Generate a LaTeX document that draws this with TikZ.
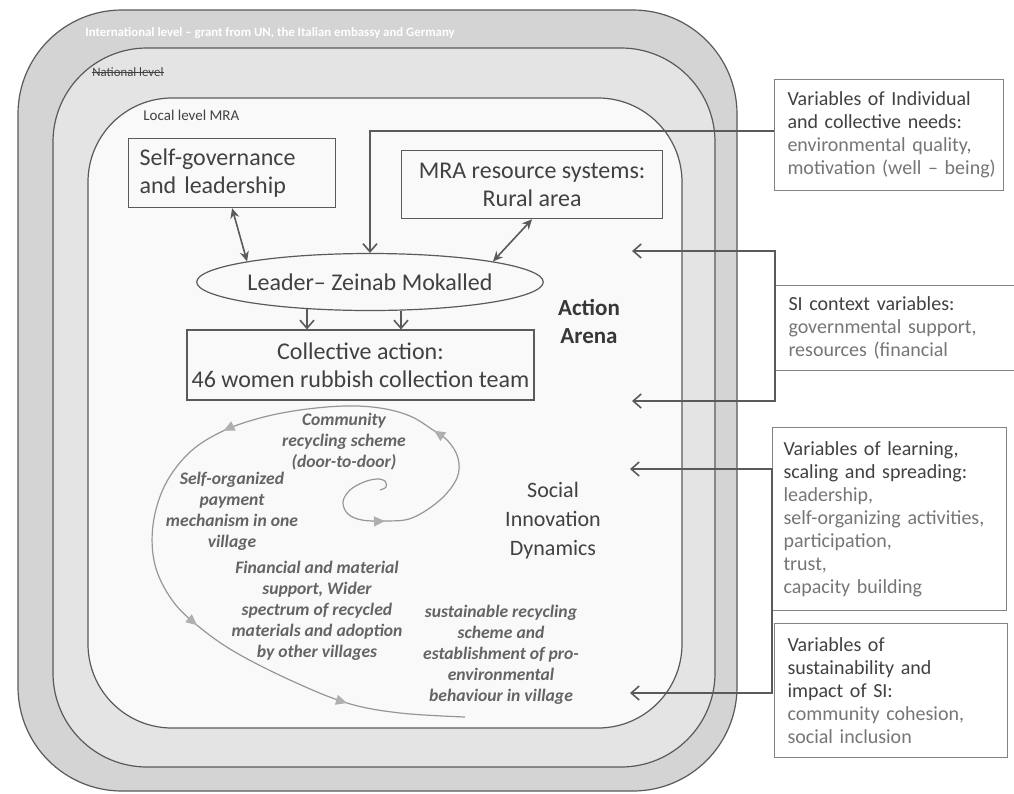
\documentclass[tikz,border=0pt]{standalone}
\usepackage{fontspec}
\setmainfont{Carlito}
\usetikzlibrary{arrows.meta,shapes.geometric,decorations.markings}

\definecolor{intband}{RGB}{212,212,212}
\definecolor{natband}{RGB}{228,228,228}
\definecolor{locfill}{RGB}{249,249,249}
\definecolor{edge}{RGB}{90,90,90}
\definecolor{ink}{RGB}{65,65,65}
\definecolor{softink}{RGB}{118,118,118}
\definecolor{spiralgray}{RGB}{150,150,150}
\definecolor{spiraltip}{RGB}{175,175,175}

\newcommand{\vhead}[1]{\textcolor{ink}{#1}}

\begin{document}
\begin{tikzpicture}[x=0.5pt,y=-0.5pt,
  tierframe/.style={draw=edge,line width=0.6pt,rounded corners=#1},
  textbox/.style={draw=edge,line width=0.6pt,text=ink,inner sep=0pt,font=\fontsize{12}{14}\selectfont},
  varbox/.style={draw=edge!75,line width=0.5pt,text=softink,anchor=north west,inner sep=0pt,align=left,
    font=\fontsize{10}{11.5}\selectfont,execute at begin node={\leftskip=#1\relax\hyphenpenalty=10000\relax}},
  tierlabel/.style={anchor=west,inner sep=0pt,font=\fontsize{7.5}{9}\selectfont},
  spiraltext/.style={text=softink!85!black,inner sep=0pt,align=center,font=\bfseries\itshape\fontsize{8.8}{10.5}\selectfont},
  conn/.style={draw=edge,line width=0.8pt},
  opentip/.style={-{Straight Barb[length=4pt,width=7pt]}},
  bothtips/.style={{Straight Barb[length=4pt,width=7pt]}-{Straight Barb[length=4pt,width=7pt]}},
  dbltips/.style={{Stealth[length=5pt,width=4.5pt]}-{Stealth[length=5pt,width=4.5pt]}},
  spiralpath/.style={draw=spiralgray,line width=0.6pt,decoration={markings,
    mark=at position 0.116 with {\arrow[spiraltip]{Triangle[length=5.5pt,width=5pt]}},
    mark=at position 0.261 with {\arrow[spiraltip]{Triangle[length=5.5pt,width=5pt]}},
    mark=at position 0.478 with {\arrow[spiraltip]{Triangle[length=5.5pt,width=5pt]}},
    mark=at position 0.714 with {\arrow[spiraltip]{Triangle[length=5.5pt,width=5pt]}},
    mark=at position 0.882 with {\arrow[spiraltip]{Triangle[length=5.5pt,width=5pt]}}}}]

\fill[white] (0,0) rectangle (1014,794);
\useasboundingbox (0,0) rectangle (1014,794);

%levels: international, national, local
\draw[tierframe=52pt,fill=intband] (18,10) rectangle (737,791);
\draw[tierframe=47pt,fill=natband] (53,48) rectangle (715,767);
\draw[tierframe=42pt,fill=locfill] (88,98) rectangle (682,728);

\node[tierlabel,text=white,font=\bfseries\fontsize{6.4}{8}\selectfont] (intlab) at (85,33) {International level – grant from UN, the Italian embassy and Germany};
\node[tierlabel,text=ink,font=\fontsize{6.4}{8}\selectfont] (natlab) at (92,72) {National level};
\draw[ink,line width=0.5pt] (natlab.west) -- (natlab.east); %struck through
\node[tierlabel,text=ink] (loclab) at (143,115) {Local level MRA};

%action arena
\node[textbox,anchor=north west,minimum width=103.5pt,minimum height=34.5pt,text width=92.5pt,inner xsep=5.5pt,align=left] (selfgov) at (128,138) {Self-governance\\and leadership};
\node[textbox,anchor=north west,minimum width=130.5pt,minimum height=34pt,align=center] (mra) at (401,150) {MRA resource systems:\\Rural area};
\node[textbox,ellipse,minimum width=145.5pt,minimum height=28.5pt] (leader) at (370,282) {Leader– Zeinab Mokalled};
\node[textbox,minimum width=173.5pt,minimum height=35pt,align=center] (collect) at (360.5,365) {Collective action:\\46 women rubbish collection team};
\node[text=ink!85!black,align=center,font=\bfseries\fontsize{11.5}{14}\selectfont] (arena) at (589,321) {Action\\Arena};

\draw[conn,dbltips] (selfgov.south) -- (leader.north west);
\draw[conn,dbltips] (mra.south) -- (leader.north east);
\draw[conn,opentip] ([shift={(-31.5pt,1.5pt)}]leader.south) -- ([xshift=-31.5pt]leader.south |- collect.north);
\draw[conn,opentip] ([xshift=15.5pt]leader.south) -- ([xshift=15.5pt]leader.south |- collect.north);

%social innovation dynamics
\draw[spiralpath,postaction={decorate}] plot[smooth,tension=0.6] coordinates {
  (380,490) (386,487) (385,481) (377,479) (364,482) (350,490) (343,502) (348,514) (362,520)
  (386,521) (412,518) (440,500) (457,478) (458,458) (448,441) (433,430)
  (410,416) (380,408) (344,406) (300,410) (260,418) (223,431)
  (190,452) (165,485) (153,525) (155,565) (172,600) (198,626)
  (235,652) (290,680) (347,703) (400,713) (465,717)};

\node[spiraltext] (recycle) at (344,442) {Community\\recycling scheme\\(door-to-door)};
\node[spiraltext] (payment) at (232,511) {Self-organized\\payment\\mechanism in one\\village};
\node[spiraltext] (support) at (317,611) {Financial and material\\support, Wider\\spectrum of recycled\\materials and adoption\\by other villages};
\node[spiraltext] (sustain) at (501,655) {sustainable recycling\\scheme and\\establishment of pro-\\environmental\\behaviour in village};
\node[text=ink,align=center,font=\fontsize{11}{14.5}\selectfont] (sidyn) at (553,521) {Social\\Innovation\\Dynamics};

%variables
\node[varbox=6.5pt,minimum height=55.5pt,text width=114.5pt] (needs) at (774,79) {\vhead{Variables of Individual}\\\vhead{and collective needs:}\\environmental quality,\\motivation (well – being)};
\node[varbox=6.5pt,minimum height=42.5pt,text width=127.5pt] (context) at (775,285) {\vhead{SI context variables:}\\governmental support,\\resources (financial};
\node[varbox=5.5pt,minimum height=91.5pt,text width=117pt] (learning) at (772,427) {\vhead{Variables of learning,}\\\vhead{scaling and spreading:}\\leadership,\\self-organizing activities,\\participation,\\trust,\\capacity building};
\node[varbox=6.5pt,minimum height=67pt,text width=116.5pt] (sustainvar) at (774,623) {\vhead{Variables of}\\\vhead{sustainability and}\\\vhead{impact of SI:}\\community cohesion,\\social inclusion};

\coordinate (arenatop) at (632,251);
\coordinate (arenabot) at (632,401);
\coordinate (dyntop) at (630,469);
\coordinate (dynbot) at (630,693);

\draw[conn,opentip] ([yshift=2pt]needs.west) -| (leader.north);
\draw[conn,bothtips] (arenatop) -- (arenatop -| context.west) -- (arenabot -| context.west) -- (arenabot);
\draw[conn,bothtips] (dyntop) -- (dyntop -| learning.west) -- (dynbot -| learning.west) -- (dynbot);

\end{tikzpicture}
\end{document}
